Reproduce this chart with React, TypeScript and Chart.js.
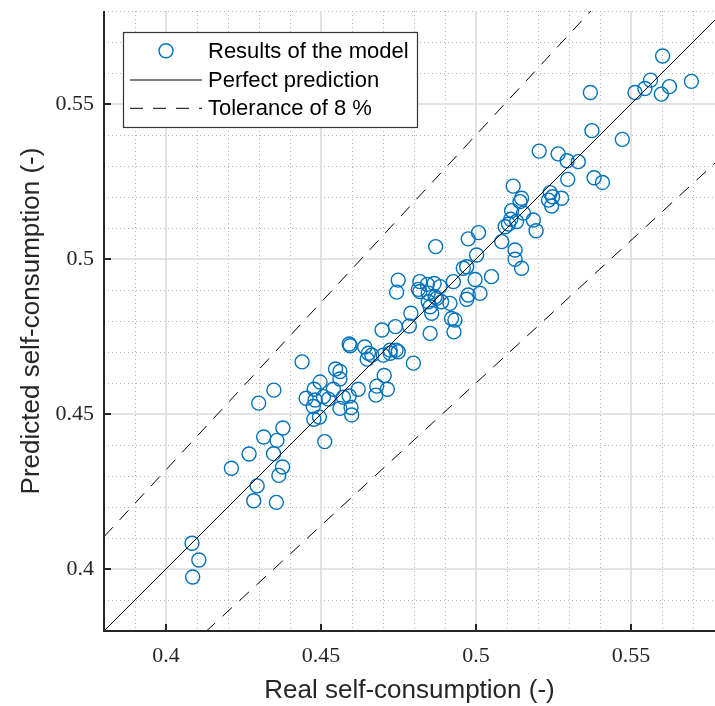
import React, { useEffect, useRef } from "react";
import { Chart, registerables } from "chart.js";

Chart.register(...registerables);

// Real (x) and predicted (y) self-consumption
const realValues = [
  0.4084, 0.4106, 0.4086, 0.4211, 0.4268, 0.4283, 0.4294, 0.4299, 0.4315, 0.4347,
  0.4348, 0.4356, 0.4358, 0.4364, 0.4376, 0.4377, 0.4439, 0.4452, 0.4478, 0.4481,
  0.4475, 0.4477, 0.4495, 0.4497, 0.4508, 0.4524, 0.4512, 0.4540, 0.4547, 0.4561,
  0.4561, 0.4572, 0.4591, 0.4561, 0.4597, 0.4599, 0.4591, 0.4594, 0.4620, 0.4641,
  0.4653, 0.4664, 0.4649, 0.4677, 0.4680, 0.4701, 0.4704, 0.4714, 0.4723, 0.4723,
  0.4742, 0.4749, 0.4697, 0.4740, 0.4785, 0.4790, 0.4798, 0.4749, 0.4744, 0.4819,
  0.4843, 0.4865, 0.4819, 0.4846, 0.4868, 0.4846, 0.4857, 0.4852, 0.4884, 0.4873,
  0.4889, 0.4852, 0.4916, 0.4921, 0.4932, 0.4929, 0.4927, 0.4959, 0.4970, 0.4975,
  0.5013, 0.4997, 0.5050, 0.4870, 0.4975, 0.5002, 0.5008, 0.4970, 0.4814, 0.5083,
  0.5094, 0.5105, 0.5112, 0.5115, 0.5120, 0.5126, 0.5126, 0.5147, 0.5131, 0.5153,
  0.5142, 0.5147, 0.5185, 0.5194, 0.5204, 0.5234, 0.5239, 0.5247, 0.5244, 0.5265,
  0.5276, 0.5296, 0.5294, 0.5330, 0.5369, 0.5374, 0.5381, 0.5408, 0.5472, 0.5513,
  0.5545, 0.5563, 0.5598, 0.5602, 0.5624, 0.5695,
];
const predictedValues = [
  0.4083, 0.4029, 0.3974, 0.4325, 0.4371, 0.4220, 0.4268, 0.4535, 0.4426, 0.4372,
  0.4577, 0.4215, 0.4415, 0.4302, 0.4329, 0.4455, 0.4668, 0.4551, 0.4580, 0.4545,
  0.4524, 0.4483, 0.4490, 0.4603, 0.4556, 0.4548, 0.4411, 0.4580, 0.4645, 0.4637,
  0.4613, 0.4554, 0.4558, 0.4518, 0.4521, 0.4497, 0.4726, 0.4720, 0.4580, 0.4716,
  0.4696, 0.4690, 0.4677, 0.4561, 0.4590, 0.4690, 0.4624, 0.4580, 0.4706, 0.4696,
  0.4706, 0.4701, 0.4771, 0.4782, 0.4784, 0.4825, 0.4664, 0.4932, 0.4893, 0.4927,
  0.4918, 0.4921, 0.4895, 0.4890, 0.4878, 0.4862, 0.4825, 0.4760, 0.4911, 0.4873,
  0.4862, 0.4846, 0.4857, 0.4808, 0.4803, 0.4765, 0.4927, 0.4970, 0.4870, 0.4884,
  0.4889, 0.4934, 0.4943, 0.5040, 0.5065, 0.5013, 0.5085, 0.4975, 0.4902, 0.5056,
  0.5104, 0.5113, 0.5128, 0.5156, 0.5235, 0.5029, 0.4999, 0.4970, 0.5121, 0.5148,
  0.5185, 0.5196, 0.5126, 0.5091, 0.5348, 0.5190, 0.5214, 0.5201, 0.5171, 0.5339,
  0.5196, 0.5257, 0.5317, 0.5314, 0.5537, 0.5414, 0.5262, 0.5247, 0.5386, 0.5537,
  0.5550, 0.5577, 0.5532, 0.5655, 0.5556, 0.5573,
];

// Reference lines: perfect prediction and +/- 8 % tolerance
const lineX = [0.38, 0.58];
const perfectY = [0.38, 0.58];
const upperTolY = [0.4104, 0.6264];
const lowerTolY = [0.3496, 0.5336];

// Axes
const xRange = [0.38, 0.5771];
const yRange = [0.38, 0.58];
const xMajorTicks = [0.4, 0.45, 0.5, 0.55];
const xTickLabels = ["0.4", "0.45", "0.5", "0.55"];
const yMajorTicks = [0.4, 0.45, 0.5, 0.55];
const yTickLabels = ["0.4", "0.45", "0.5", "0.55"];
const xMinorTicks = [0.39, 0.41, 0.42, 0.43, 0.44, 0.46, 0.47, 0.48, 0.49, 0.51, 0.52, 0.53, 0.54, 0.56, 0.57];
const yMinorTicks = [0.39, 0.41, 0.42, 0.43, 0.44, 0.46, 0.47, 0.48, 0.49, 0.51, 0.52, 0.53, 0.54, 0.56, 0.57, 0.58];

const xTitle = "Real self-consumption (-)";
const yTitle = "Predicted self-consumption (-)";
const legendLabels = ["Results of the model", "Perfect prediction", "Tolerance of 8 %"];

const BLUE = "#0072BD";
const AXIS = "#262626";
const DASH = [13, 10];

const gridPlugin = {
  id: "matlabGrid",
  beforeDatasetsDraw(chart: any) {
    const { ctx, chartArea, scales } = chart;
    const { left, right, top, bottom } = chartArea;
    const x = scales.x;
    const y = scales.y;
    ctx.save();
    ctx.setLineDash([1, 3]);
    ctx.strokeStyle = "#b4b4b4";
    ctx.lineWidth = 1;
    for (const v of xMinorTicks) {
      const px = Math.round(x.getPixelForValue(v)) + 0.5;
      ctx.beginPath();
      ctx.moveTo(px, top);
      ctx.lineTo(px, bottom);
      ctx.stroke();
    }
    for (const v of yMinorTicks) {
      const py = Math.round(y.getPixelForValue(v)) + 0.5;
      ctx.beginPath();
      ctx.moveTo(left, py);
      ctx.lineTo(right, py);
      ctx.stroke();
    }
    ctx.setLineDash([]);
    ctx.strokeStyle = "#dcdcdc";
    ctx.lineWidth = 1.6;
    for (const v of xMajorTicks) {
      const px = x.getPixelForValue(v);
      ctx.beginPath();
      ctx.moveTo(px, top);
      ctx.lineTo(px, bottom);
      ctx.stroke();
    }
    for (const v of yMajorTicks) {
      const py = y.getPixelForValue(v);
      ctx.beginPath();
      ctx.moveTo(left, py);
      ctx.lineTo(right, py);
      ctx.stroke();
    }
    ctx.restore();
  },
  afterDatasetsDraw(chart: any) {
    const { ctx, chartArea, scales } = chart;
    const { left, right, top, bottom } = chartArea;
    const x = scales.x;
    const y = scales.y;
    ctx.save();
    ctx.strokeStyle = AXIS;
    ctx.lineWidth = 2;
    ctx.beginPath();
    ctx.moveTo(left, top);
    ctx.lineTo(left, bottom);
    ctx.lineTo(right, bottom);
    ctx.stroke();
    for (const v of xMajorTicks) {
      const px = x.getPixelForValue(v);
      ctx.beginPath();
      ctx.moveTo(px, bottom);
      ctx.lineTo(px, bottom - 7);
      ctx.stroke();
    }
    for (const v of yMajorTicks) {
      const py = y.getPixelForValue(v);
      ctx.beginPath();
      ctx.moveTo(left, py);
      ctx.lineTo(left + 7, py);
      ctx.stroke();
    }
    ctx.restore();
  },
  afterDraw(chart: any) {
    const { ctx, chartArea } = chart;
    const bx = chartArea.left + 19;
    const by = chartArea.top + 21;
    const bw = 294;
    const bh = 95;
    ctx.save();
    ctx.fillStyle = "#ffffff";
    ctx.fillRect(bx, by, bw, bh);
    ctx.strokeStyle = "#333333";
    ctx.lineWidth = 1.2;
    ctx.strokeRect(bx + 0.5, by + 0.5, bw, bh);
    const rows = [by + 18.7, by + 48, by + 76.3];
    const symL = bx + 7;
    const symR = bx + 79;
    ctx.strokeStyle = BLUE;
    ctx.lineWidth = 1.4;
    ctx.beginPath();
    ctx.arc((symL + symR) / 2, rows[0], 7, 0, Math.PI * 2);
    ctx.stroke();
    ctx.strokeStyle = "#000000";
    ctx.lineWidth = 1;
    ctx.beginPath();
    ctx.moveTo(symL, rows[1]);
    ctx.lineTo(symR, rows[1]);
    ctx.stroke();
    ctx.setLineDash(DASH);
    ctx.beginPath();
    ctx.moveTo(symL, rows[2]);
    ctx.lineTo(symR, rows[2]);
    ctx.stroke();
    ctx.setLineDash([]);
    ctx.fillStyle = "#000000";
    ctx.font = "22px 'Liberation Sans', Arial, sans-serif";
    ctx.textBaseline = "middle";
    ctx.textAlign = "left";
    legendLabels.forEach((t, i) => ctx.fillText(t, bx + 85, rows[i] + 1));
    ctx.restore();
  },
};

export default function App() {
  const canvasRef = useRef<HTMLCanvasElement | null>(null);

  useEffect(() => {
    if (!canvasRef.current) return;
    const points = realValues.map((v, i) => ({ x: v, y: predictedValues[i] }));
    const mk = (ys: number[]) => lineX.map((v, i) => ({ x: v, y: ys[i] }));
    const tickFont = { family: "'Liberation Serif', 'Times New Roman', serif", size: 22 };
    const titleFont = { family: "'Liberation Sans', Arial, sans-serif", size: 26 };

    const chart = new Chart(canvasRef.current, {
      type: "scatter",
      data: {
        datasets: [
          {
            label: legendLabels[0],
            data: points,
            pointStyle: "circle",
            pointRadius: 7,
            pointBorderWidth: 1.4,
            borderColor: BLUE,
            backgroundColor: "rgba(0,0,0,0)",
            pointBackgroundColor: "rgba(0,0,0,0)",
            pointBorderColor: BLUE,
            order: 2,
          },
          {
            type: "line",
            label: legendLabels[1],
            data: mk(perfectY),
            borderColor: "#000000",
            borderWidth: 1,
            pointRadius: 0,
            showLine: true,
            fill: false,
            order: 1,
          },
          {
            type: "line",
            label: legendLabels[2],
            data: mk(upperTolY),
            borderColor: "#000000",
            borderWidth: 1,
            borderDash: DASH,
            pointRadius: 0,
            showLine: true,
            fill: false,
            order: 1,
          },
          {
            type: "line",
            label: legendLabels[2],
            data: mk(lowerTolY),
            borderColor: "#000000",
            borderWidth: 1,
            borderDash: DASH,
            pointRadius: 0,
            showLine: true,
            fill: false,
            order: 1,
          },
        ] as any,
      },
      options: {
        animation: false,
        responsive: false,
        devicePixelRatio: 1,
        layout: { autoPadding: false, padding: { top: 11, right: 0, bottom: 0, left: 0 } },
        plugins: { legend: { display: false }, tooltip: { enabled: false } },
        scales: {
          x: {
            type: "linear",
            min: xRange[0],
            max: xRange[1],
            grid: { display: false, drawTicks: false },
            border: { display: false },
            afterBuildTicks: (axis: any) => {
              axis.ticks = xMajorTicks.map((v) => ({ value: v }));
            },
            afterFit: (axis: any) => {
              axis.height = 75;
              axis.paddingLeft = 0;
              axis.paddingRight = 0;
              axis.paddingTop = 0;
              axis.paddingBottom = 0;
            },
            ticks: {
              color: AXIS,
              font: tickFont,
              padding: 12,
              maxRotation: 0,
              callback: (_v: any, i: number) => xTickLabels[i],
            },
            title: { display: true, text: xTitle, color: AXIS, font: titleFont, padding: { top: 0, bottom: 0 } },
          },
          y: {
            type: "linear",
            min: yRange[0],
            max: yRange[1],
            grid: { display: false, drawTicks: false },
            border: { display: false },
            afterBuildTicks: (axis: any) => {
              axis.ticks = yMajorTicks.map((v) => ({ value: v }));
            },
            afterFit: (axis: any) => {
              axis.width = 104;
              axis.paddingLeft = 0;
              axis.paddingRight = 0;
              axis.paddingTop = 0;
              axis.paddingBottom = 0;
            },
            ticks: {
              color: AXIS,
              font: tickFont,
              padding: 10,
              callback: (_v: any, i: number) => yTickLabels[i],
            },
            title: { display: true, text: yTitle, color: AXIS, font: titleFont, padding: { top: 16, bottom: 0 } },
          },
        },
      } as any,
      plugins: [gridPlugin],
    });
    return () => chart.destroy();
  }, []);

  return (
    <div style={{ position: "absolute", left: 0, top: 0, width: 715, height: 706, background: "#ffffff" }}>
      <canvas ref={canvasRef} width={715} height={706} style={{ display: "block", width: 715, height: 706 }} />
    </div>
  );
}
